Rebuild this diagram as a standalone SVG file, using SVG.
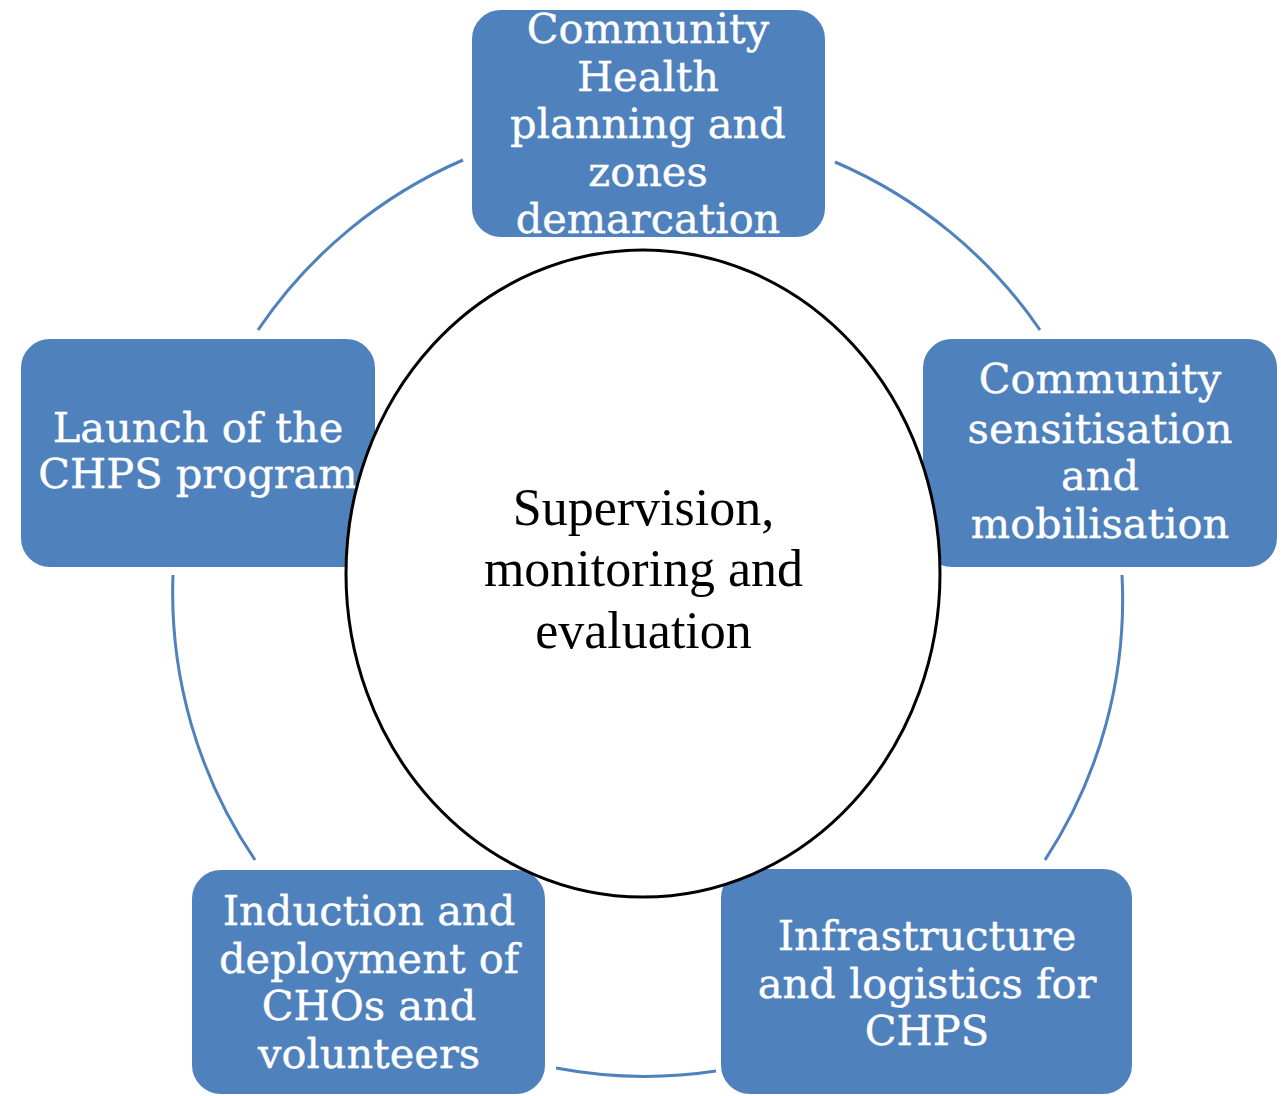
<svg xmlns="http://www.w3.org/2000/svg" width="1281" height="1096" viewBox="0 0 1281 1096">
  <style>
    .box { fill: #4F81BD; stroke: #ffffff; stroke-width: 2; }
    .label { font-family: "DejaVu Serif", "Liberation Serif", serif; font-size: 41.5px; fill: #ffffff; text-anchor: middle; stroke: #ffffff; stroke-width: 0.4; }
    .cycle { fill: none; stroke: #4F81BD; stroke-width: 3; }
    .hub { fill: #ffffff; stroke: #000000; stroke-width: 3; }
    .hub-label { font-family: "Liberation Serif", "Times New Roman", serif; font-size: 52px; fill: #000000; text-anchor: middle; }
  </style>
  <rect width="1281" height="1096" fill="#ffffff"/>

  <!-- arc segments of the cycle ring (centre 648,598; r 475) -->
  <g id="connectors">
    <path class="cycle" d="M 463 160 A 475 475 0 0 0 258 330"/>
    <path class="cycle" d="M 835 162 A 475 475 0 0 1 1040 330"/>
    <path class="cycle" d="M 1122 575 A 475 475 0 0 1 1045 860"/>
    <path class="cycle" d="M 716 1071 A 475 475 0 0 1 556 1068"/>
    <path class="cycle" d="M 255 860 A 475 475 0 0 1 173 575"/>
  </g>

  <g id="node-planning">
    <rect class="box" x="471" y="9" width="355" height="229" rx="30"/>
    <text class="label" x="648" y="43">Community</text>
    <text class="label" x="648" y="91">Health</text>
    <text class="label" x="648" y="138">planning and</text>
    <text class="label" x="648" y="186">zones</text>
    <text class="label" x="648" y="233">demarcation</text>
  </g>

  <g id="node-sensitisation">
    <rect class="box" x="922" y="338" width="356" height="230" rx="30"/>
    <text class="label" x="1100" y="393">Community</text>
    <text class="label" x="1100" y="443">sensitisation</text>
    <text class="label" x="1100" y="490">and</text>
    <text class="label" x="1100" y="538">mobilisation</text>
  </g>

  <g id="node-infrastructure">
    <rect class="box" x="720" y="868" width="413" height="227" rx="30"/>
    <text class="label" x="927" y="950">Infrastructure</text>
    <text class="label" x="927" y="998">and logistics for</text>
    <text class="label" x="927" y="1045">CHPS</text>
  </g>

  <g id="node-induction">
    <rect class="box" x="191" y="869" width="355" height="226" rx="30"/>
    <text class="label" x="369" y="925">Induction and</text>
    <text class="label" x="369" y="973">deployment of</text>
    <text class="label" x="369" y="1020">CHOs and</text>
    <text class="label" x="369" y="1068">volunteers</text>
  </g>

  <g id="node-launch">
    <rect class="box" x="20" y="338" width="356" height="230" rx="30"/>
    <text class="label" x="198" y="442">Launch of the</text>
    <text class="label" x="198" y="488">CHPS program</text>
  </g>

  <g id="node-supervision">
    <ellipse class="hub" cx="643" cy="573.5" rx="297" ry="323.5"/>
    <text class="hub-label" x="643.5" y="525">Supervision,</text>
    <text class="hub-label" x="643.5" y="586">monitoring and</text>
    <text class="hub-label" x="643.5" y="648">evaluation</text>
  </g>
</svg>
